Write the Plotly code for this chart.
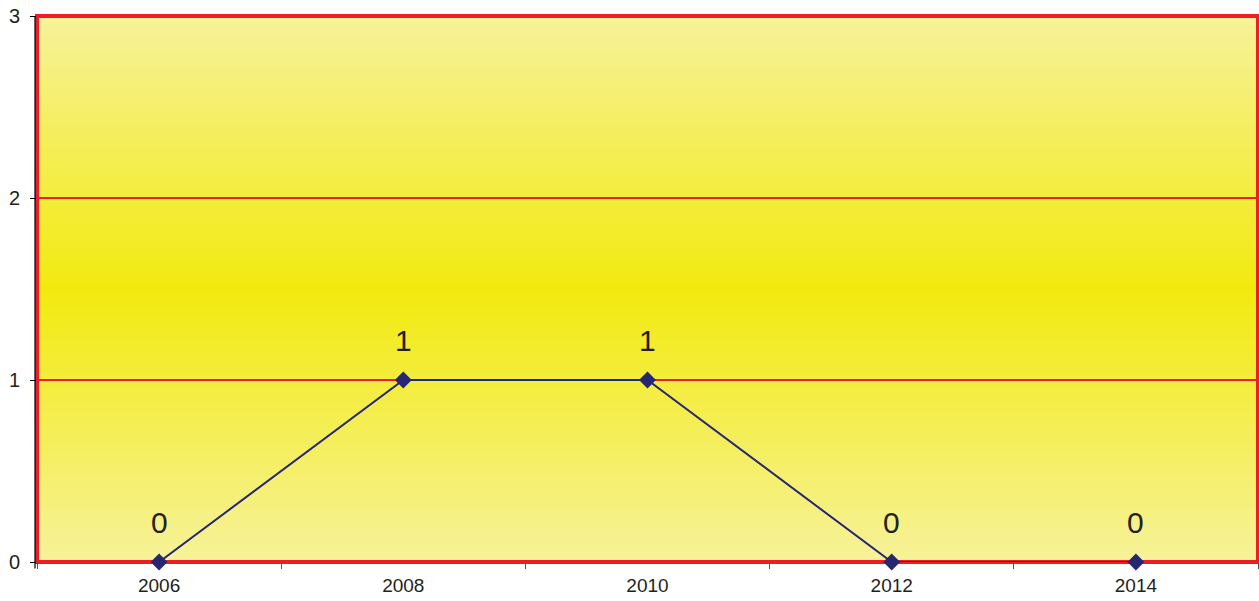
import plotly.graph_objects as go

years = ["2006", "2008", "2010", "2012", "2014"]
values = [0, 1, 1, 0, 0]
y_ticks = [0, 1, 2, 3]

edge = (246, 242, 154)
center = (242, 234, 14)

fig = go.Figure()
fig.add_trace(go.Scatter(
    x=list(range(len(years))), y=values, mode="lines+markers",
    line=dict(color="#262673", width=2),
    marker=dict(symbol="diamond", size=13, color="#262673"),
    cliponaxis=False, showlegend=False, hoverinfo="skip",
))

shapes = []
N = 120
for i in range(N):
    mid = (i + 0.5) / N
    t = abs(mid - 0.5) / 0.5
    c = tuple(round(center[k] + (edge[k] - center[k]) * t) for k in range(3))
    shapes.append(dict(type="rect", xref="paper", yref="paper",
                       x0=0, x1=1, y0=i / N, y1=(i + 1) / N + 0.002,
                       fillcolor="rgb(%d,%d,%d)" % c, line=dict(width=0), layer="below"))
# red plot-area border
shapes.append(dict(type="rect", xref="paper", yref="paper", x0=0, x1=1, y0=0, y1=1,
                   line=dict(color="#EE1C25", width=4), fillcolor="rgba(0,0,0,0)", layer="between"))
# black left axis line just outside the border
shapes.append(dict(type="line", xref="paper", yref="paper", xsizemode="pixel", xanchor=0,
                   x0=-2, x1=-2, y0=-0.012, y1=1.0, line=dict(color="#000000", width=1.2),
                   layer="above"))

annotations = [dict(x=i, y=v, xref="x", yref="y", text=str(v), showarrow=False, yshift=40,
                    font=dict(size=30, color="#231F20", family="Liberation Sans, Arial"))
               for i, v in enumerate(values)]

fig.update_layout(
    width=1259, height=601,
    margin=dict(l=37, r=1, t=16, b=39),
    paper_bgcolor="white", plot_bgcolor="rgba(0,0,0,0)",
    font=dict(family="Liberation Sans, Arial", size=20, color="#231F20"),
    shapes=shapes, annotations=annotations,
    xaxis=dict(range=[-0.5, 4.5], tickmode="array",
               tickvals=list(range(len(years))), ticktext=years,
               ticks="", showgrid=False, showline=False, zeroline=False,
               minor=dict(tick0=0.5, dtick=1, ticks="outside", ticklen=6,
                          tickcolor="#555555", tickwidth=1, showgrid=False),
               tickfont=dict(size=19), ticklabelstandoff=10),
    yaxis=dict(range=[0, 3], tickvals=y_ticks, ticks="outside", ticklen=6,
               tickcolor="#000000", tickwidth=1, showgrid=True,
               gridcolor="#EE1C25", gridwidth=2, zeroline=False, showline=False,
               tickfont=dict(size=20), ticklabelstandoff=6),
)

fig.write_html("out.html", config={"displayModeBar": False},
               post_script="document.body.style.margin='0';document.body.style.overflow='hidden';")
